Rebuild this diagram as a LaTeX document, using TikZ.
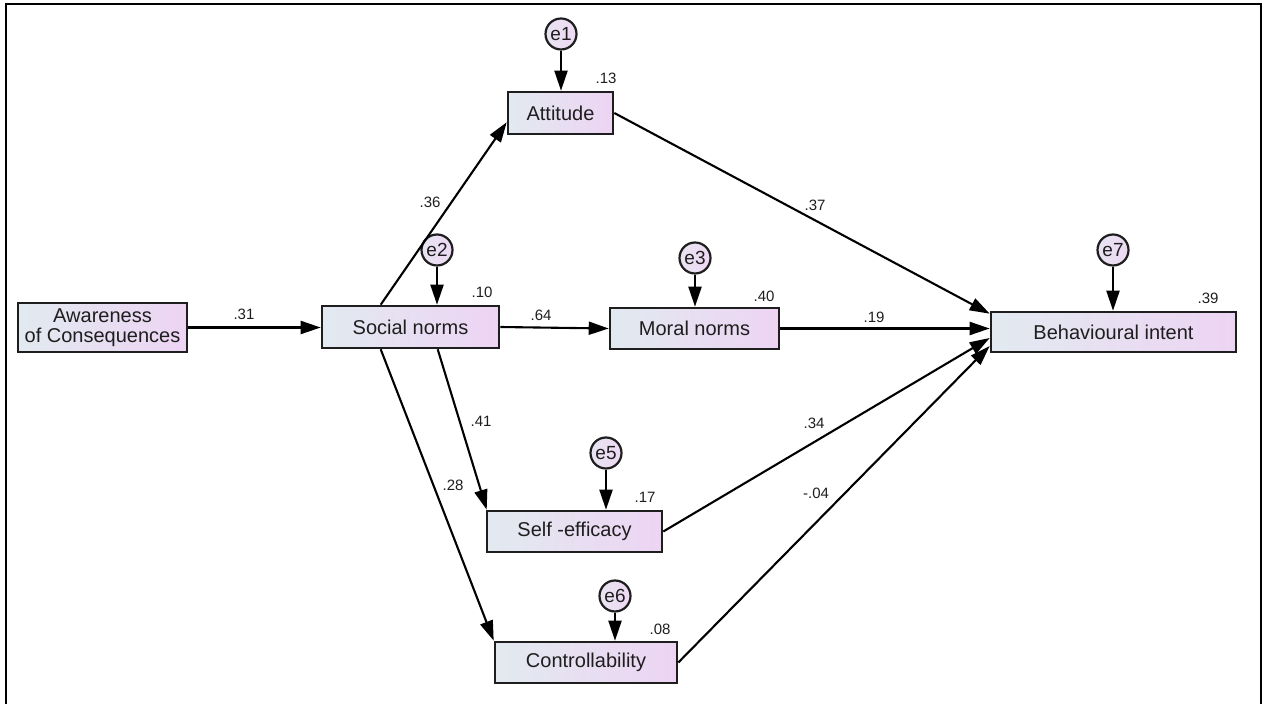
\documentclass[tikz,border=0pt]{standalone}
\usepackage{fontspec}
\setmainfont{Liberation Sans}
\usetikzlibrary{calc,arrows.meta}
\definecolor{boxleft}{RGB}{226,234,240}
\definecolor{boxright}{RGB}{237,212,243}
\definecolor{errleft}{RGB}{232,228,240}
\definecolor{errright}{RGB}{238,216,244}
\definecolor{ink}{RGB}{30,30,30}
\begin{document}
\begin{tikzpicture}[x=0.5pt,y=-0.5pt,
  var/.style={draw=ink, line width=1.3pt, left color=boxleft, right color=boxright,
    font=\fontsize{10}{11}\selectfont, text=ink, inner sep=0pt, align=center},
  err/.style={circle, draw=ink, line width=1.1pt, left color=errleft, right color=errright,
    minimum size=15.5pt, inner sep=0pt, font=\fontsize{9.5}{10}\selectfont, text=ink},
  link/.style={draw=black, line width=1.05pt, -{Triangle[length=10pt,width=6.5pt]}},
  coef/.style={font=\fontsize{7.5}{8}\selectfont, text=ink, inner sep=0pt}]
\useasboundingbox (0,0) rectangle (1262,704);
% outer frame (open at the bottom)
\draw[line width=1.3pt] (6,704) -- (6,4) -- (1261,4) -- (1261,704);

% observed variables
\node[var, minimum width=84.5pt, minimum height=24.5pt] (aw)  at (102.5,327.5) {Awareness\\[-1pt]of Consequences};
\node[var, minimum width=88.5pt, minimum height=21pt]   (sn)  at (410.5,327)   {Social norms};
\node[var, minimum width=52.5pt, minimum height=21pt]   (att) at (560.5,113)   {Attitude};
\node[var, minimum width=84.5pt, minimum height=20.5pt] (mor) at (694.5,328.5) {Moral norms};
\node[var, minimum width=122.5pt, minimum height=20pt]  (bi)  at (1113.5,332)  {Behavioural intent};
\node[var, minimum width=87.5pt, minimum height=20.5pt] (se)  at (574.5,531.5) {Self -efficacy};
\node[var, minimum width=91pt, minimum height=20.5pt]   (con) at (586,662.5)   {Controllability};

% error terms
\node[err] (e1) at (561,34)   {e1};
\node[err] (e2) at (437,250)  {e2};
\node[err] (e3) at (695,258)  {e3};
\node[err] (e5) at (606,453)  {e5};
\node[err] (e6) at (615,596)  {e6};
\node[err] (e7) at (1113,250) {e7};

% error paths
\draw[link] (e1) -- (e1 |- att.north);
\draw[link] (e2) -- (e2 |- sn.north);
\draw[link] (e3) -- (e3 |- mor.north);
\draw[link] (e5) -- (e5 |- se.north);
\draw[link] (e6) -- (e6 |- con.north);
\draw[link] (e7) -- (e7 |- bi.north);

% structural paths
\draw[link] (aw.east) -- (aw.east -| sn.west);
\draw[link] ($(sn.north west)+(60,0)$) -- ($(att.south west)+(0,-13)$);
\draw[link] (sn.east) -- (mor.west);
\draw[link] ($(sn.south west)+(117,0)$) -- ($(se.north west)+(1,0)$);
\draw[link] ($(sn.south west)+(60,0)$) -- (con.north west);
\draw[link] (att.east) -- ($(bi.north west)+(0,3)$);
\draw[link] (mor.east) -- (mor.east -| bi.west);
\draw[link] (se.east) -- ($(bi.west)+(0,6)$);
\draw[link] (con.east) -- ($(bi.west)+(0,14)$);

% estimates
\node[coef] (c31)  at (244,314)  {.31};
\node[coef] (c36)  at (430,202)  {.36};
\node[coef] (c10)  at (482,292)  {.10};
\node[coef] (c13)  at (606,78)   {.13};
\node[coef] (c64)  at (541,315)  {.64};
\node[coef] (c40)  at (764,296)  {.40};
\node[coef] (c37)  at (815,205)  {.37};
\node[coef] (c19)  at (874,317)  {.19};
\node[coef] (c39)  at (1208,298) {.39};
\node[coef] (c41)  at (481,421)  {.41};
\node[coef] (c28)  at (453,485)  {.28};
\node[coef] (c17)  at (645,497)  {.17};
\node[coef] (c34)  at (814,423)  {.34};
\node[coef] (cm04) at (816,493)  {-.04};
\node[coef] (c08)  at (660,629)  {.08};
\end{tikzpicture}
\end{document}
